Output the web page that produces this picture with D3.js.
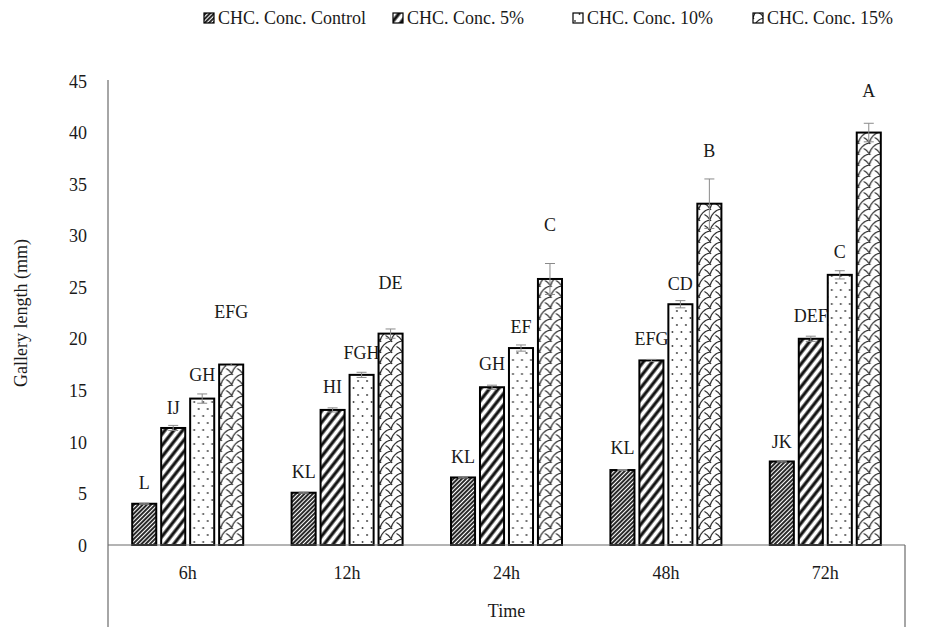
<!DOCTYPE html>
<html>
<head>
<meta charset="utf-8">
<script src="https://cdn.jsdelivr.net/npm/d3@7"></script>
<style>
  body { margin: 0; background: #fff; }
  svg text { font-family: "Liberation Serif", "Times New Roman", serif; fill: #1a1a1a; }
</style>
</head>
<body>
<figure id="bars" style="margin:0"></figure>
<script>
// data
const times = ["6h", "12h", "24h", "48h", "72h"];
const seriesNames = ["CHC. Conc. Control", "CHC. Conc. 5%", "CHC. Conc. 10%", "CHC. Conc. 15%"];

const control = [4.0, 5.07, 6.55, 7.27, 8.1];
const conc5 = [11.35, 13.1, 15.3, 17.9, 20.0];
const conc10 = [14.2, 16.5, 19.1, 23.35, 26.2];
const conc15 = [17.5, 20.5, 25.8, 33.1, 40.0];

const errControl = [0.05, 0.05, 0.05, 0.05, 0.05];
const err5 = [0.25, 0.2, 0.2, 0.1, 0.25];
const err10 = [0.45, 0.25, 0.3, 0.35, 0.4];
const err15 = [0.1, 0.45, 1.5, 2.4, 0.9];

// significance letters and the height (in mm) they sit at
const lettersControl = ["L", "KL", "KL", "KL", "JK"];
const letters5 = ["IJ", "HI", "GH", "EFG", "DEF"];
const letters10 = ["GH", "FGH", "EF", "CD", "C"];
const letters15 = ["EFG", "DE", "C", "B", "A"];
const letterAtControl = [6.0, 7.1, 8.55, 9.4, 10.0];
const letterAt5 = [13.3, 15.35, 17.55, 19.95, 22.2];
const letterAt10 = [16.5, 18.6, 21.2, 25.3, 28.45];
const letterAt15 = [22.6, 25.4, 31.0, 38.2, 44.0];

const yTicks = [0, 5, 10, 15, 20, 25, 30, 35, 40, 45];

const allValues = [control, conc5, conc10, conc15];
const allErr = [errControl, err5, err10, err15];
const allLetters = [lettersControl, letters5, letters10, letters15];
const allLetterAt = [letterAtControl, letterAt5, letterAt10, letterAt15];
const patternIds = ["p-control", "p-5", "p-10", "p-15"];

const width = 930, height = 627;
const plotLeft = 108, plotRight = 905, plotTop = 81, plotBottom = 545;
const serif = "'Liberation Serif', 'Times New Roman', serif";

const svg = d3.select("figure#bars")
  .append("svg")
  .attr("width", width)
  .attr("height", height)
  .attr("font-family", serif);

// fill patterns (Excel-like)
const defs = svg.append("defs");

const pc = defs.append("pattern")
  .attr("id", "p-control")
  .attr("patternUnits", "userSpaceOnUse")
  .attr("width", 3).attr("height", 3)
  .attr("patternTransform", "rotate(45)");
pc.append("rect").attr("width", 3).attr("height", 3).attr("fill", "#fff");
pc.append("line").attr("x1", 1).attr("y1", 0).attr("x2", 1).attr("y2", 3)
  .attr("stroke", "#111").attr("stroke-width", 1.8);

const p5 = defs.append("pattern")
  .attr("id", "p-5")
  .attr("patternUnits", "userSpaceOnUse")
  .attr("width", 7).attr("height", 7)
  .attr("patternTransform", "rotate(38)");
p5.append("rect").attr("width", 7).attr("height", 7).attr("fill", "#fff");
p5.append("line").attr("x1", 2).attr("y1", 0).attr("x2", 2).attr("y2", 7)
  .attr("stroke", "#111").attr("stroke-width", 3.2);

const p10 = defs.append("pattern")
  .attr("id", "p-10")
  .attr("patternUnits", "userSpaceOnUse")
  .attr("width", 9).attr("height", 14);
p10.append("rect").attr("width", 9).attr("height", 14).attr("fill", "#fff");
p10.append("circle").attr("cx", 2).attr("cy", 3).attr("r", 0.9).attr("fill", "#333");
p10.append("circle").attr("cx", 6.5).attr("cy", 10).attr("r", 0.9).attr("fill", "#333");

const p15 = defs.append("pattern")
  .attr("id", "p-15")
  .attr("patternUnits", "userSpaceOnUse")
  .attr("width", 11).attr("height", 11);
p15.append("rect").attr("width", 11).attr("height", 11).attr("fill", "#fff");
p15.append("path")
  .attr("d", "M0,11 C1,5.5 5.5,1 11,0 M5.5,5.5 C7.5,6.5 10,9 11,11 M0,0 C0.5,0.3 0.8,0.6 1,1")
  .attr("fill", "none").attr("stroke", "#222").attr("stroke-width", 1.1);

// scales
const x0 = d3.scaleBand()
  .domain(times)
  .range([plotLeft, plotRight]);

const x1 = d3.scaleBand()
  .domain(d3.range(seriesNames.length))
  .range([-55.5, 55.5])
  .paddingInner(0.17);

const y = d3.scaleLinear()
  .domain([0, 45])
  .range([plotBottom, plotTop]);

// y axis: labels only, no ticks
const yAxis = svg.append("g")
  .attr("transform", "translate(" + (plotLeft - 21) + ",0)")
  .call(d3.axisLeft(y).tickValues(yTicks).tickSize(0).tickPadding(0));
yAxis.attr("font-family", serif).attr("font-size", null);
yAxis.select(".domain").remove();
yAxis.selectAll("text")
  .style("font-size", "18px")
  .attr("dy", "0.34em");

// axis lines
svg.append("line")
  .attr("x1", plotLeft).attr("x2", plotLeft)
  .attr("y1", plotTop - 1).attr("y2", height)
  .attr("stroke", "#6b6b6b").attr("stroke-width", 1.2);

svg.append("line")
  .attr("x1", plotRight).attr("x2", plotRight)
  .attr("y1", plotBottom).attr("y2", height)
  .attr("stroke", "#6b6b6b").attr("stroke-width", 1.2);

// bars
const groups = svg.append("g")
  .selectAll("g")
  .data(times)
  .enter()
  .append("g")
  .attr("transform", d => "translate(" + (x0(d) + x0.bandwidth() / 2) + ",0)");

groups.each(function(t, i) {
  const g = d3.select(this);
  allValues.forEach((vals, s) => {
    const v = vals[i];
    g.append("rect")
      .attr("x", x1(s))
      .attr("y", y(v))
      .attr("width", x1.bandwidth())
      .attr("height", y(0) - y(v))
      .attr("fill", "url(#" + patternIds[s] + ")")
      .attr("stroke", "#000")
      .attr("stroke-width", 2);
  });
});

// error bars
groups.each(function(t, i) {
  const g = d3.select(this);
  allValues.forEach((vals, s) => {
    const v = vals[i], e = allErr[s][i];
    const cx = x1(s) + x1.bandwidth() / 2;
    g.append("path")
      .attr("d", "M" + cx + "," + y(v + e) + "V" + y(v - e) +
        "M" + (cx - 5) + "," + y(v + e) + "H" + (cx + 5) +
        "M" + (cx - 5) + "," + y(v - e) + "H" + (cx + 5))
      .attr("fill", "none")
      .attr("stroke", "#8a8a8a")
      .attr("stroke-width", 1);
  });
});

// letters
groups.each(function(t, i) {
  const g = d3.select(this);
  allLetters.forEach((labs, s) => {
    g.append("text")
      .text(labs[i])
      .attr("x", x1(s) + x1.bandwidth() / 2)
      .attr("y", y(allLetterAt[s][i]))
      .attr("dy", "0.34em")
      .attr("text-anchor", "middle")
      .style("font-size", "18px");
  });
});

// x axis
svg.append("line")
  .attr("x1", plotLeft).attr("x2", plotRight)
  .attr("y1", plotBottom).attr("y2", plotBottom)
  .attr("stroke", "#6b6b6b").attr("stroke-width", 1.2);

svg.append("g")
  .selectAll("text")
  .data(times)
  .enter()
  .append("text")
  .text(d => d)
  .attr("x", d => x0(d) + x0.bandwidth() / 2)
  .attr("y", 573)
  .attr("dy", "0.34em")
  .attr("text-anchor", "middle")
  .style("font-size", "18px");

// axis titles
svg.append("text")
  .text("Time")
  .attr("x", (plotLeft + plotRight) / 2)
  .attr("y", 611)
  .attr("dy", "0.34em")
  .attr("text-anchor", "middle")
  .style("font-size", "18px");

svg.append("text")
  .text("Gallery length (mm)")
  .attr("transform", "translate(21," + ((plotTop + plotBottom) / 2) + ") rotate(-90)")
  .attr("dy", "0.34em")
  .attr("text-anchor", "middle")
  .style("font-size", "18px");

// legend
const legendX = [204, 393, 573, 753];
const legend = svg.append("g")
  .selectAll("g")
  .data(seriesNames)
  .enter()
  .append("g")
  .attr("transform", (d, i) => "translate(" + legendX[i] + ",18)");

legend.append("rect")
  .attr("x", 0).attr("y", -5)
  .attr("width", 10).attr("height", 10)
  .attr("fill", (d, i) => "url(#" + patternIds[i] + ")")
  .attr("stroke", "#000")
  .attr("stroke-width", 1.2);

legend.append("text")
  .text(d => d)
  .attr("x", 14)
  .attr("y", 0)
  .attr("dy", "0.34em")
  .style("font-size", "18px");
</script>
</body>
</html>
